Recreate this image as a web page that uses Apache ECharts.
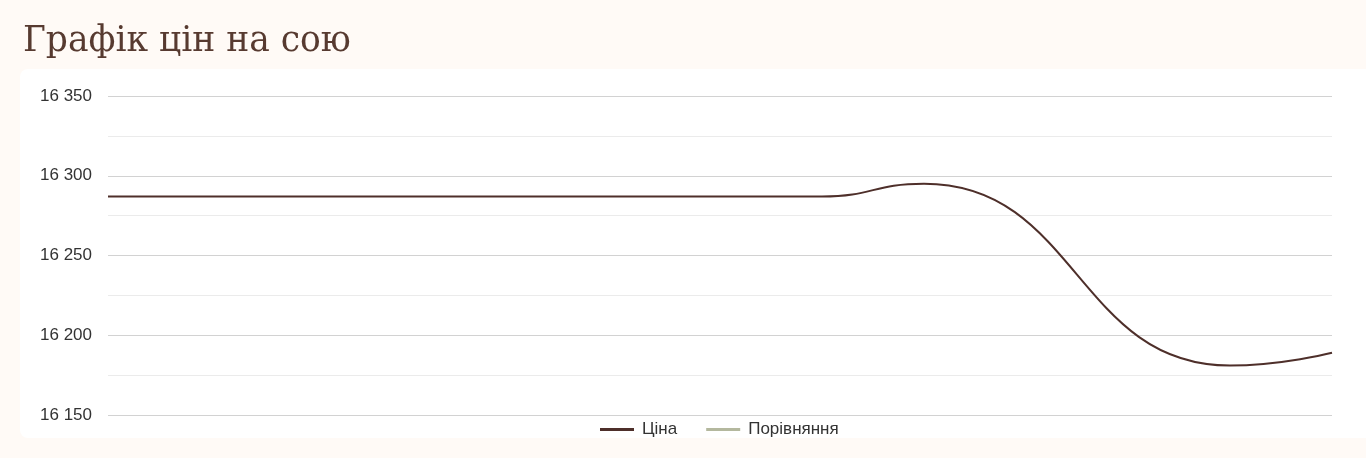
<!DOCTYPE html>
<html>
<head>
<meta charset="utf-8">
<script src="https://cdn.jsdelivr.net/npm/echarts@6/dist/echarts.min.js"></script>
<style>
html,body{margin:0;padding:0;background:#fffaf6;}
#chart{width:1366px;height:458px;}
</style>
</head>
<body>
<div id="chart"></div>
<script>
const titleText = "Графік цін на сою";
const categories = ["1","2","3","4","5","6","7","8","9","10","11","12","13"];
const priceValues = [16287,16287,16287,16287,16287,16287,16287,16287,16295,null,null,16181,16189];
const compareValues = [];
const seriesNames = ["Ціна","Порівняння"];
const yMin = 16150, yMax = 16350, yStep = 50;

const chart = echarts.init(document.getElementById('chart'), null, {renderer:'canvas'});
chart.setOption({
  backgroundColor: '#fffaf6',
  animation: false,
  graphic: [{
    type: 'rect', z: -10, silent: true,
    shape: {x: 20, y: 69, width: 1360, height: 369, r: 8},
    style: {fill: '#ffffff'}
  }],
  title: {
    text: titleText, left: 18, top: 20,
    textStyle: {fontFamily: 'DejaVu Serif', fontSize: 34.5, fontWeight: 'normal', color: '#573a30'}
  },
  grid: {left: 108, right: 34, top: 96, bottom: 43, containLabel: false},
  legend: {
    bottom: 15, left: 595,
    itemWidth: 34, itemHeight: 3, itemGap: 29,
    icon: 'rect',
    textStyle: {fontFamily: 'Liberation Sans, Arial', fontSize: 17, color: '#333', padding: [0, 0, 0, 3]},
    data: seriesNames
  },
  xAxis: {
    type: 'category', data: categories, boundaryGap: false,
    axisLine: {show: false}, axisTick: {show: false}, axisLabel: {show: false},
    splitLine: {show: false}
  },
  yAxis: {
    type: 'value', min: yMin, max: yMax, interval: yStep,
    axisLine: {show: false}, axisTick: {show: false},
    axisLabel: {
      margin: 16, fontFamily: 'Liberation Sans, Arial', fontSize: 17, color: '#333',
      formatter: v => String(v).replace(/\B(?=(\d{3})+(?!\d))/g, ' ')
    },
    splitLine: {show: true, lineStyle: {color: '#d2d2d2', width: 1}},
    minorTick: {show: false, splitNumber: 2},
    minorSplitLine: {show: true, lineStyle: {color: '#ebebeb', width: 1}}
  },
  series: [
    {name: seriesNames[0], type: 'line', data: priceValues, smooth: 0.5, smoothMonotone: 'x',
     connectNulls: true, symbol: 'none',
     lineStyle: {color: '#4e2f2a', width: 2}, itemStyle: {color: '#4e2f2a'}},
    {name: seriesNames[1], type: 'line', data: compareValues, smooth: true, symbol: 'none',
     lineStyle: {color: '#b4b89e', width: 2}, itemStyle: {color: '#b4b89e'}}
  ]
});
</script>
</body>
</html>
